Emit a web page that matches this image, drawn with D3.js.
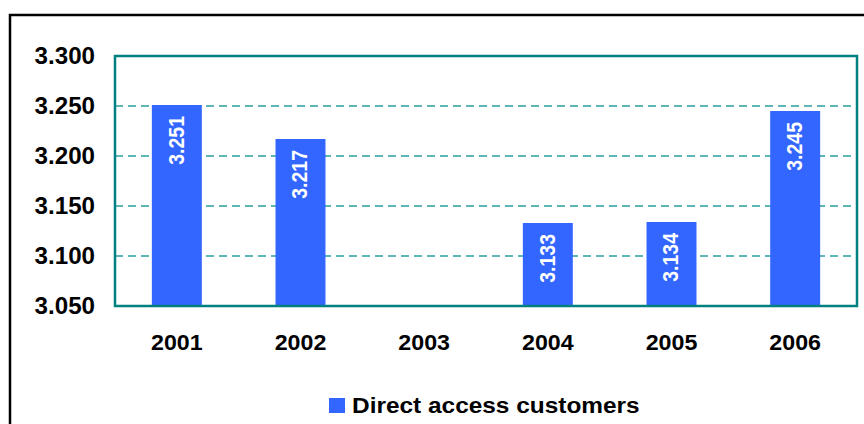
<!DOCTYPE html>
<html>
<head>
<meta charset="utf-8">
<script src="https://cdn.jsdelivr.net/npm/d3@7"></script>
<style>
  html, body { margin: 0; padding: 0; background: #fff; }
  svg { display: block; font-family: "Liberation Sans", Arial, sans-serif; font-weight: bold; }
</style>
</head>
<body>
<svg id="chart" width="864" height="424"></svg>
<script>
// Direct access customers per year (no value for 2003)
const years = ["2001", "2002", "2003", "2004", "2005", "2006"];
const customers = [3.251, 3.217, null, 3.133, 3.134, 3.245];
const yTicks = [3.05, 3.1, 3.15, 3.2, 3.25, 3.3];
const seriesName = "Direct access customers";

const plot = { left: 115, top: 56, right: 857, bottom: 306 };
const barColor = "#3366ff";
const frameTeal = "#008080";
const gridTeal = "#2a9f9f";
const fmt = d3.format(".3f");

const svg = d3.select("#chart");

// Outer chart frame (runs past the right and bottom edges)
svg.append("rect")
  .attr("x", 10).attr("y", 15)
  .attr("width", 900).attr("height", 500)
  .attr("fill", "none").attr("stroke", "#000").attr("stroke-width", 2.5);

const x = d3.scaleBand()
  .domain(years)
  .range([plot.left, plot.right])
  .paddingInner(0.596)
  .paddingOuter(0.298);

const y = d3.scaleLinear()
  .domain([3.05, 3.3])
  .range([plot.bottom, plot.top]);

// Dashed horizontal gridlines
svg.append("g")
  .selectAll("line")
  .data(yTicks.filter(t => t > 3.05 && t < 3.3))
  .join("line")
  .attr("x1", plot.left).attr("x2", plot.right)
  .attr("y1", d => y(d)).attr("y2", d => y(d))
  .attr("stroke", gridTeal).attr("stroke-width", 1.3)
  .attr("stroke-dasharray", "8,5");

// Bars
const data = years.map((yr, i) => ({ year: yr, value: customers[i] }))
  .filter(d => d.value != null);

svg.append("g")
  .selectAll("rect")
  .data(data)
  .join("rect")
  .attr("x", d => x(d.year))
  .attr("width", x.bandwidth())
  .attr("y", d => y(d.value))
  .attr("height", d => y.range()[0] - y(d.value))
  .attr("fill", barColor);

// Rotated value labels inside the bars
svg.append("g")
  .selectAll("text")
  .data(data)
  .join("text")
  .attr("transform", d => `translate(${x(d.year) + x.bandwidth() / 2 - 1},${y(d.value) + 11}) rotate(-90) scale(1,1.1)`)
  .attr("text-anchor", "end")
  .attr("dominant-baseline", "central")
  .attr("fill", "#fff")
  .attr("font-size", 19.5)
  .text(d => fmt(d.value));

// Plot area border
svg.append("rect")
  .attr("x", plot.left).attr("y", plot.top)
  .attr("width", plot.right - plot.left)
  .attr("height", plot.bottom - plot.top)
  .attr("fill", "none").attr("stroke", frameTeal).attr("stroke-width", 2.5);

// Y axis labels (axis drawn without domain or tick marks)
const yAxis = svg.append("g")
  .attr("transform", `translate(${plot.left},0)`)
  .call(d3.axisLeft(y).tickValues(yTicks).tickSize(0).tickFormat(fmt));
yAxis.select(".domain").remove();
yAxis.selectAll(".tick text")
  .attr("x", null).attr("dy", null)
  .attr("transform", "translate(-20,0) scale(1.05,1)")
  .attr("dominant-baseline", "central")
  .attr("text-anchor", "end")
  .attr("font-family", "Liberation Sans, Arial, sans-serif")
  .attr("font-weight", "bold")
  .attr("font-size", 23)
  .attr("fill", "#000");

// X axis labels
const xAxis = svg.append("g")
  .attr("transform", `translate(0,${plot.bottom})`)
  .call(d3.axisBottom(x).tickSize(0));
xAxis.select(".domain").remove();
xAxis.selectAll(".tick text")
  .attr("y", null).attr("dy", null)
  .attr("transform", "translate(0,37) scale(1.08,1)")
  .attr("dominant-baseline", "central")
  .attr("font-family", "Liberation Sans, Arial, sans-serif")
  .attr("font-weight", "bold")
  .attr("font-size", 21.5)
  .attr("fill", "#000");

// Legend
const legend = svg.append("g").attr("transform", "translate(329,398)");
legend.append("rect")
  .attr("x", 0).attr("y", 0).attr("width", 16).attr("height", 15)
  .attr("fill", barColor);
legend.append("text")
  .attr("transform", "translate(23,15) scale(1.11,1)")
  .attr("font-size", 22)
  .attr("fill", "#000")
  .text(seriesName);
</script>
</body>
</html>
